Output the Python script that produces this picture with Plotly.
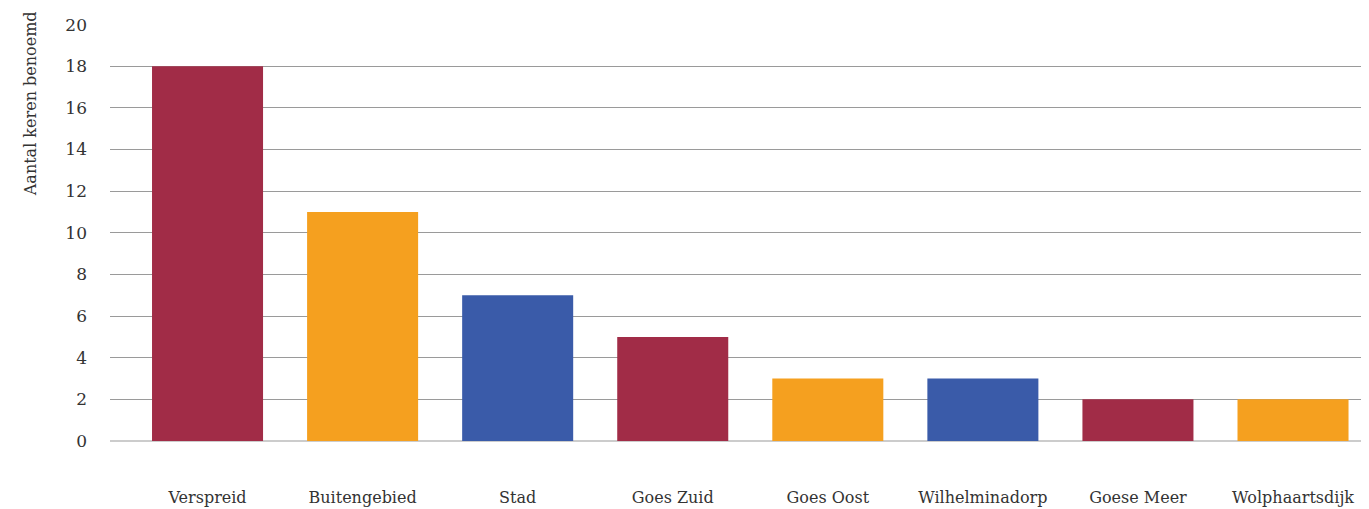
import plotly.graph_objects as go

categories = ["Verspreid", "Buitengebied", "Stad", "Goes Zuid", "Goes Oost",
              "Wilhelminadorp", "Goese Meer", "Wolphaartsdijk"]
values = [18, 11, 7, 5, 3, 3, 2, 2]
bar_colors = ["#A12C47", "#F5A01F", "#3A5BA9", "#A12C47", "#F5A01F",
              "#3A5BA9", "#A12C47", "#F5A01F"]
y_ticks = [0, 2, 4, 6, 8, 10, 12, 14, 16, 18, 20]
y_title = "Aantal keren benoemd"

font_family = "DejaVu Serif"

fig = go.Figure(go.Bar(x=categories, y=values, marker_color=bar_colors,
                       marker_line_width=0))

# page body has an 8px default margin; compensate so the plot sits where the reference's does
fig.update_layout(
    width=1361, height=501,
    margin=dict(l=102, r=0, t=16, b=68, autoexpand=False),
    paper_bgcolor="white", plot_bgcolor="white",
    bargap=0.284,
    showlegend=False,
    font=dict(family=font_family, size=15, color="#333333"),
)
fig.update_xaxes(range=[-0.629, 7.49], showgrid=False, showline=False,
                 ticks="", ticklabelstandoff=45, automargin=False,
                 tickfont=dict(family=font_family, size=16, color="#333333"))
fig.update_yaxes(range=[0, 20.03], tickvals=y_ticks, showgrid=True,
                 gridcolor="#9a9a9a", gridwidth=1,
                 zeroline=True, zerolinecolor="#cccccc", zerolinewidth=2,
                 ticks="", ticklabelstandoff=22, automargin=False,
                 tickfont=dict(family=font_family, size=17, color="#333333"))
fig.add_annotation(text=y_title, textangle=-90, xref="paper", yref="paper",
                   x=-0.0625, y=1.035, xanchor="center", yanchor="top",
                   showarrow=False,
                   font=dict(family=font_family, size=16, color="#333333"))

fig.write_html("out.html")
